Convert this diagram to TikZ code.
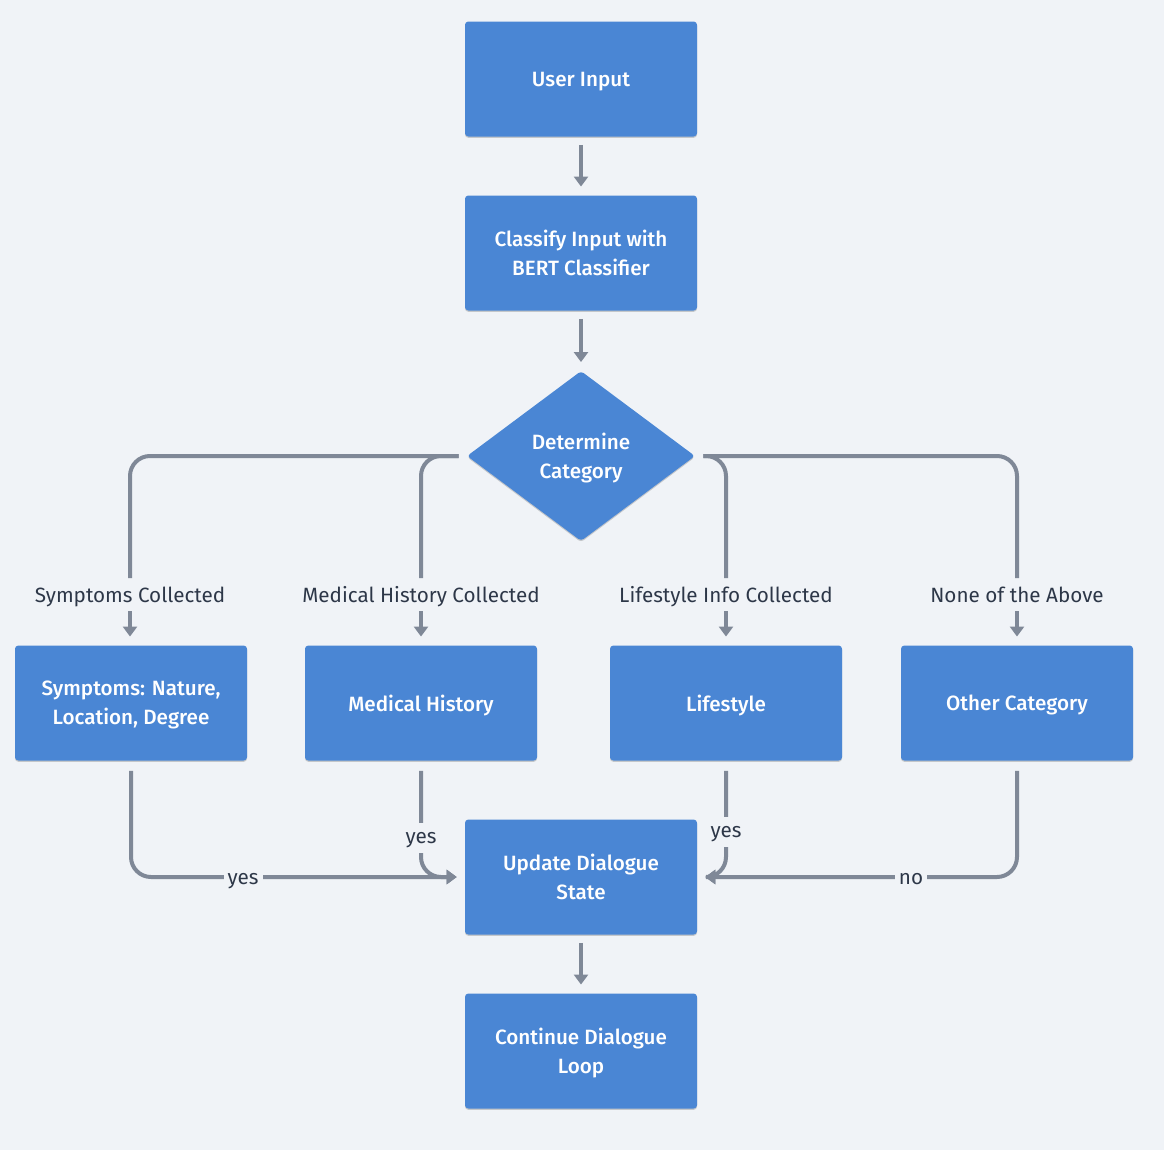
\documentclass[tikz,border=0pt]{standalone}
\usepackage{fontspec}
\setmainfont{Fira Sans}[BoldFont={Fira Sans Medium}]
\usetikzlibrary{arrows.meta,shapes.geometric,calc,shadows}
\definecolor{bgc}{HTML}{F0F3F7}
\definecolor{boxc}{HTML}{4A86D4}
\definecolor{linec}{HTML}{7F8897}
\definecolor{txtc}{HTML}{2D3748}
\begin{document}
\begin{tikzpicture}[x=0.75pt,y=-0.75pt,
  shad/.style={drop shadow={shadow xshift=0pt,shadow yshift=-1pt,opacity=0.18,fill=black}},
  box/.style={rectangle,fill=boxc,rounded corners=2.5pt,minimum width=174pt,minimum height=86.25pt,
    text=white,font=\fontsize{15.5}{21.75}\selectfont\bfseries,align=center,inner sep=0pt,text depth=0pt,shad},
  decis/.style={diamond,fill=boxc,rounded corners=2.5pt,minimum width=171pt,minimum height=127.5pt,
    text=white,font=\fontsize{15.5}{21.75}\selectfont\bfseries,align=center,inner sep=0pt,text depth=0pt,shad},
  lbl/.style={text=txtc,font=\fontsize{15.5}{18}\selectfont,inner sep=0pt,text height=10.7pt,text depth=0pt},
  elbl/.style={text=txtc,font=\fontsize{15.5}{18}\selectfont,fill=bgc,inner xsep=3pt,inner ysep=2pt,text depth=0pt},
  conn/.style={draw=linec,line width=3pt,rounded corners=15pt},
  arr/.style={conn,-{Triangle[width=10.5pt,length=7.5pt]}},
]
\fill[bgc] (0,0) rectangle (1164,1150);
\useasboundingbox (0,0) rectangle (1164,1150);

\node[box] (u) at (581,79) {User Input};
\node[box] (c) at (581,253) {Classify Input with\\BERT Classifier};
\node[decis] (d) at (581,456) {Determine\\Category};

\node[box] (sym) at (131,703) {Symptoms: Nature,\\Location, Degree};
\node[box] (med) at (421,703) {Medical History};
\node[box] (lif) at (726,703) {Lifestyle};
\node[box] (oth) at (1017,703) {Other Category};

\node[box] (upd) at (581,877) {Update Dialogue\\State};
\node[box] (cont) at (581,1051) {Continue Dialogue\\Loop};

\node[lbl] (l1) at (130,595) {Symptoms Collected};
\node[lbl] (l2) at (421,595) {Medical History Collected};
\node[lbl] (l3) at (726,595) {Lifestyle Info Collected};
\node[lbl] (l4) at (1017,595) {None of the Above};

% vertical arrows in the main column
\draw[arr,shorten <=6pt,shorten >=6.5pt] (u) -- (c);
\draw[arr,shorten <=6pt,shorten >=6.5pt] (c) -- (d);
\draw[arr,shorten <=6pt,shorten >=6.5pt] (upd) -- (cont);

% decision branches
\draw[conn] ($(d.west)+(-8,0)$) -| ($(l1)+(0,-17)$);
\draw[conn] ($(d.west)+(-8,0)$) -| ($(l2)+(0,-17)$);
\draw[conn] ($(d.east)+(8,0)$) -| ($(l3)+(0,-17)$);
\draw[conn] ($(d.east)+(8,0)$) -| ($(l4)+(0,-17)$);

\draw[arr,shorten >=6.5pt] ($(l1)+(0,16)$) -- (l1|-sym.north);
\draw[arr,shorten >=6.5pt] ($(l2)+(0,16)$) -- (l2|-med.north);
\draw[arr,shorten >=6.5pt] ($(l3)+(0,16)$) -- (l3|-lif.north);
\draw[arr,shorten >=6.5pt] ($(l4)+(0,16)$) -- (l4|-oth.north);

% merging into update
\draw[arr] ($(sym.south)+(0,10)$) |- ($(upd.west)+(-8,0)$);
\draw[arr] ($(med.south)+(0,10)$) |- ($(upd.west)+(-8,0)$);
\draw[arr] ($(lif.south)+(0,10)$) |- ($(upd.east)+(8,0)$);
\draw[arr] ($(oth.south)+(0,10)$) |- ($(upd.east)+(8,0)$);

\node[elbl] (y1) at (243,879) {yes};
\node[elbl,inner ysep=7.4pt] (y2) at (421,838) {yes};
\node[elbl,inner ysep=7.4pt] (y3) at (726,832) {yes};
\node[elbl] (n1) at (911,879) {no};
\end{tikzpicture}
\end{document}
